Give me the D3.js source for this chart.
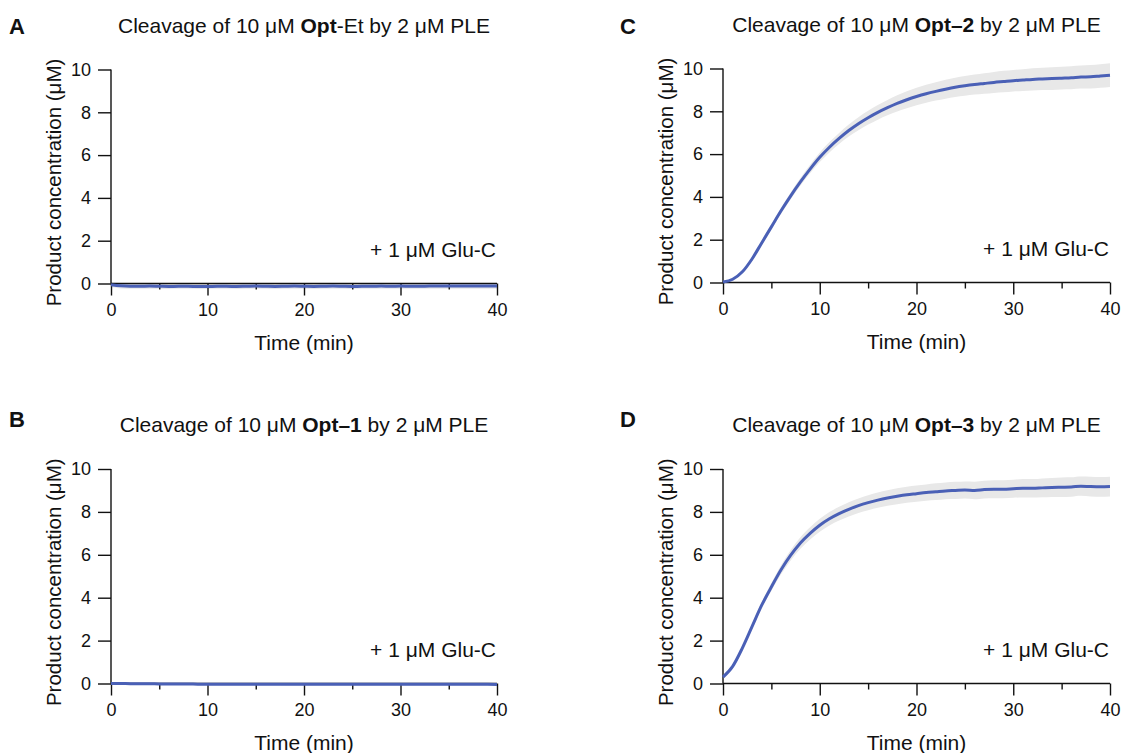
<!DOCTYPE html>
<html>
<head>
<meta charset="utf-8">
<script src="https://cdn.jsdelivr.net/npm/d3@7"></script>
<style>
  html, body { margin: 0; padding: 0; background: #fff; }
  svg { display: block; font-family: "Liberation Sans", Arial, sans-serif; }
</style>
</head>
<body>
<svg id="fig" width="1121" height="753"></svg>
<script>
// Time points (min)
const time = d3.range(0, 41);

// Mean product concentration (µM) per panel
const optEt = [-0.06, -0.11, -0.13, -0.13, -0.12, -0.13, -0.14, -0.13, -0.13, -0.14, -0.14, -0.13, -0.13, -0.14, -0.13, -0.12, -0.13, -0.14, -0.13, -0.12, -0.13, -0.14, -0.13, -0.12, -0.13, -0.14, -0.13, -0.13, -0.12, -0.13, -0.12, -0.13, -0.13, -0.12, -0.12, -0.12, -0.12, -0.12, -0.12, -0.12, -0.12];
const opt1 = [0.0, 0.0, -0.01, -0.01, -0.01, -0.02, -0.02, -0.02, -0.02, -0.03, -0.03, -0.03, -0.03, -0.03, -0.03, -0.03, -0.03, -0.03, -0.04, -0.04, -0.04, -0.04, -0.04, -0.04, -0.04, -0.04, -0.04, -0.04, -0.04, -0.04, -0.04, -0.04, -0.04, -0.04, -0.04, -0.04, -0.04, -0.04, -0.04, -0.04, -0.05];
const opt2 = [0.02, 0.15, 0.5, 1.1, 1.85, 2.6, 3.35, 4.05, 4.7, 5.3, 5.85, 6.32, 6.73, 7.1, 7.42, 7.7, 7.95, 8.17, 8.37, 8.54, 8.69, 8.82, 8.93, 9.03, 9.12, 9.19, 9.25, 9.3, 9.35, 9.39, 9.43, 9.46, 9.49, 9.51, 9.53, 9.55, 9.57, 9.6, 9.61, 9.65, 9.69];
const opt3 = [0.3, 0.8, 1.65, 2.65, 3.65, 4.5, 5.3, 5.98, 6.55, 7.0, 7.38, 7.68, 7.92, 8.12, 8.29, 8.43, 8.55, 8.65, 8.73, 8.8, 8.85, 8.9, 8.94, 8.98, 9.0, 9.02, 9.0, 9.04, 9.06, 9.06, 9.08, 9.1, 9.1, 9.12, 9.14, 9.15, 9.16, 9.2, 9.18, 9.17, 9.18];

// Standard deviation (µM) per panel
const sdEt = time.map(() => 0.12);
const sd1 = time.map(() => 0.05);
const sd2 = [0.02, 0.04, 0.06, 0.08, 0.1, 0.12, 0.14, 0.16, 0.18, 0.2, 0.22, 0.24, 0.26, 0.28, 0.3, 0.32, 0.34, 0.36, 0.38, 0.4, 0.41, 0.42, 0.43, 0.44, 0.45, 0.46, 0.47, 0.48, 0.49, 0.5, 0.5, 0.51, 0.52, 0.52, 0.53, 0.53, 0.54, 0.54, 0.55, 0.55, 0.55];
const sd3 = [0.03, 0.06, 0.09, 0.12, 0.15, 0.18, 0.21, 0.24, 0.27, 0.29, 0.3, 0.31, 0.32, 0.33, 0.34, 0.35, 0.36, 0.36, 0.37, 0.37, 0.38, 0.38, 0.39, 0.39, 0.4, 0.4, 0.41, 0.41, 0.42, 0.42, 0.42, 0.43, 0.43, 0.44, 0.44, 0.45, 0.45, 0.45, 0.46, 0.46, 0.46];

// Axis ticks
const xMajor = [0, 10, 20, 30, 40];
const xMinor = [5, 15, 25, 35];
const yTicks = [0, 2, 4, 6, 8, 10];

const panelLetters = ["A", "B", "C", "D"];
const compounds = [["Opt", "-Et"], ["Opt\u20131", ""], ["Opt\u20132", ""], ["Opt\u20133", ""]];
const means = [optEt, opt1, opt2, opt3];
const sds = [sdEt, sd1, sd2, sd3];
const enzymeNote = "+ 1 \u03bcM Glu-C";

const blue = "#4a60b6";
const band = "#e8e8e8";

// Plot frames: left/right edges and y range in pixels
const frames = [
  { x0: 111, x1: 497, yTop: 69.5, yBot: 283.5, lx: 9, ly: 34 },
  { x0: 111, x1: 497, yTop: 469, yBot: 683.5, lx: 9, ly: 427 },
  { x0: 723, x1: 1110, yTop: 68.5, yBot: 282.5, lx: 620, ly: 34 },
  { x0: 723, x1: 1110, yTop: 469, yBot: 683.5, lx: 620, ly: 427 }
];

const svg = d3.select("#fig");

frames.forEach((f, i) => {
  const x = d3.scaleLinear().domain([0, 40]).range([f.x0, f.x1]);
  const y = d3.scaleLinear().domain([0, 10]).range([f.yBot, f.yTop]);
  const g = svg.append("g");
  const rows = time.map((t, k) => ({ t, m: means[i][k], s: sds[i][k] }));

  // Panel letter
  g.append("text").attr("x", f.lx).attr("y", f.ly)
    .attr("font-size", 22).attr("font-weight", "bold").attr("fill", "#111")
    .text(panelLetters[i]);

  // Title
  const title = g.append("text")
    .attr("x", (f.x0 + f.x1) / 2).attr("y", f.yTop - 37)
    .attr("text-anchor", "middle").attr("font-size", 21).attr("fill", "#111");
  title.append("tspan").text("Cleavage of 10 \u03bcM ");
  title.append("tspan").attr("font-weight", "bold").text(compounds[i][0]);
  title.append("tspan").text(compounds[i][1] + " by 2 \u03bcM PLE");

  // Shaded SD band
  g.append("path").datum(rows)
    .attr("fill", band)
    .attr("d", d3.area().x(d => x(d.t)).y0(d => y(d.m - d.s)).y1(d => y(d.m + d.s)).curve(d3.curveMonotoneX));

  // Axes
  const yAxis = g.append("g").attr("transform", `translate(${f.x0},0)`)
    .call(d3.axisLeft(y).tickValues(yTicks).tickSize(13).tickPadding(7).tickFormat(d3.format("d")));
  const xAxis = g.append("g").attr("transform", `translate(0,${f.yBot})`)
    .call(d3.axisBottom(x).tickValues(xMajor).tickSize(12).tickPadding(8).tickFormat(d3.format("d")));
  g.append("g").attr("transform", `translate(0,${f.yBot})`)
    .call(d3.axisBottom(x).tickValues(xMinor).tickSize(6).tickFormat(""))
    .select(".domain").remove();
  [yAxis, xAxis].forEach(a => {
    a.select(".domain").attr("stroke", "#111").attr("stroke-width", 1.4)
      .attr("d", a === yAxis ? `M0,${f.yTop}V${f.yBot}` : `M${f.x0},0H${f.x1}`);
    a.selectAll("text").attr("font-size", 18).attr("fill", "#111")
      .attr("font-family", "'Liberation Sans', Arial, sans-serif");
  });
  g.selectAll(".tick line").attr("stroke", "#111").attr("stroke-width", 1.4);

  // Mean trace
  g.append("path").datum(rows)
    .attr("fill", "none").attr("stroke", blue).attr("stroke-width", 3)
    .attr("stroke-linejoin", "round")
    .attr("d", d3.line().x(d => x(d.t)).y(d => y(d.m)).curve(d3.curveMonotoneX));

  // Enzyme note
  g.append("text").attr("x", f.x1 - 1).attr("y", f.yBot - 27)
    .attr("text-anchor", "end").attr("font-size", 21).attr("fill", "#111")
    .text(enzymeNote);

  // Axis labels
  g.append("text").attr("x", (f.x0 + f.x1) / 2).attr("y", f.yBot + 66)
    .attr("text-anchor", "middle").attr("font-size", 21).attr("fill", "#111")
    .text("Time (min)");
  g.append("text")
    .attr("transform", `translate(${f.x0 - 50},${(f.yTop + f.yBot) / 2 + 6}) rotate(-90)`)
    .attr("text-anchor", "middle").attr("font-size", 20.5).attr("fill", "#111")
    .text("Product concentration (\u03bcM)");
});
</script>
</body>
</html>
